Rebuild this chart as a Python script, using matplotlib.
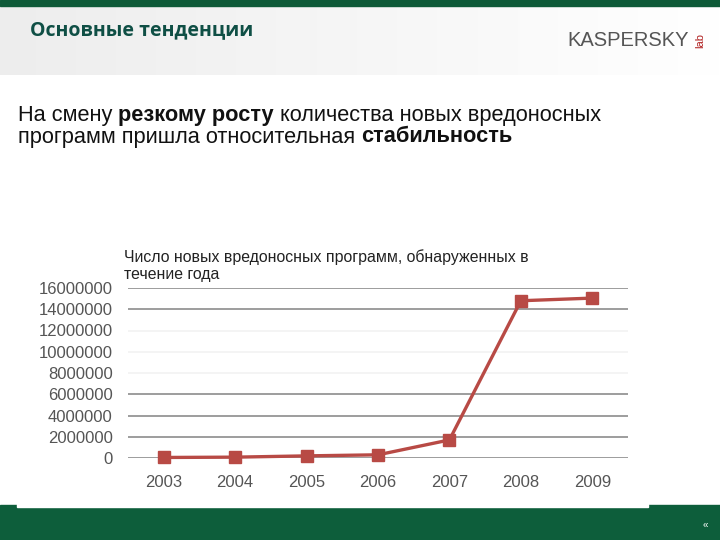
import matplotlib
matplotlib.use("Agg")
import matplotlib.pyplot as plt
import numpy as np
from matplotlib.patches import Rectangle

plt.rcParams['font.family'] = ['Liberation Sans', 'DejaVu Sans']

# данные
years = ['2003', '2004', '2005', '2006', '2007', '2008', '2009']
new_malware = [50000, 80000, 200000, 300000, 1700000, 14800000, 15050000]
y_ticks = [0, 2000000, 4000000, 6000000, 8000000, 10000000, 12000000, 14000000, 16000000]
faint_ticks = [8000000, 10000000, 12000000]

W, H = 720, 540
fig = plt.figure(figsize=(7.2, 5.4), dpi=100)

# фон слайда
bg = fig.add_axes([0, 0, 1, 1])
bg.set_xlim(0, W)
bg.set_ylim(H, 0)
bg.axis('off')
grad = np.linspace(0.93, 1.0, 256).reshape(1, -1)
bg.imshow(np.dstack([grad, grad, grad]), extent=[0, W, 75, 0], aspect='auto', zorder=0)
bg.add_patch(Rectangle((0, 0), W, 6, color='#0e5a38', zorder=1))
bg.add_patch(Rectangle((0, 505), W, 35, color='#0d5e3b', zorder=1))
bg.add_patch(Rectangle((17, 500), 631, 7, color='white', zorder=1))
bg.text(30, 30, 'Основные тенденции', fontsize=14, fontweight='bold',
        color='#0f4f45', va='center', ha='left', family=['Open Sans', 'DejaVu Sans'])
bg.text(567, 40, 'KASPERSKY', fontsize=14.5, color='#555555', va='center', ha='left')
bg.text(700, 40, 'lab', fontsize=8, color='#b02020', va='center', ha='center', rotation=90)
bg.text(705, 525, '«', fontsize=7, color='white', va='center', ha='center')

# текст слайда
line1 = [('На смену ', 'normal'), ('резкому росту', 'bold'),
         (' количества новых вредоносных', 'normal')]
line2 = [('программ пришла относительная ', 'normal'), ('стабильность', 'bold')]
fig.canvas.draw()
renderer = fig.canvas.get_renderer()
for ypix, parts in [(115, line1), (137, line2)]:
    x = 18
    for s, w in parts:
        t = bg.text(x, ypix, s, fontsize=15.7, fontweight=w, va='center', ha='left', color='#111111')
        bb = t.get_window_extent(renderer=renderer)
        x += bb.width

# заголовок графика
bg.text(124, 257, 'Число новых вредоносных программ, обнаруженных в',
        fontsize=11.4, color='#222222', va='center', ha='left')
bg.text(124, 274, 'течение года', fontsize=11.4, color='#222222', va='center', ha='left')

# график
ax = fig.add_axes([128 / W, 1 - 458 / H, 500 / W, 170 / H])
ax.patch.set_alpha(0)
x = np.arange(len(years))
for yt in y_ticks:
    ax.axhline(yt, color='#f2f2f2' if yt in faint_ticks else '#8c8c8c', lw=1.2, zorder=1)
ax.plot(x, new_malware, color='#b84a45', lw=2.4, marker='s', markersize=9,
        markerfacecolor='#b84a45', markeredgecolor='#b84a45', zorder=3, clip_on=False)
ax.set_xlim(-0.5, len(years) - 0.5)
ax.set_ylim(0, 16000000)
ax.set_xticks(x)
ax.set_xticklabels(years)
ax.set_yticks(y_ticks)
ax.set_yticklabels([str(v) for v in y_ticks])
ax.tick_params(length=0, labelsize=12, colors='#555555')
ax.tick_params(axis='y', pad=11)
ax.tick_params(axis='x', pad=12)
for s in ax.spines.values():
    s.set_visible(False)

fig.savefig('out.png', dpi=100)
